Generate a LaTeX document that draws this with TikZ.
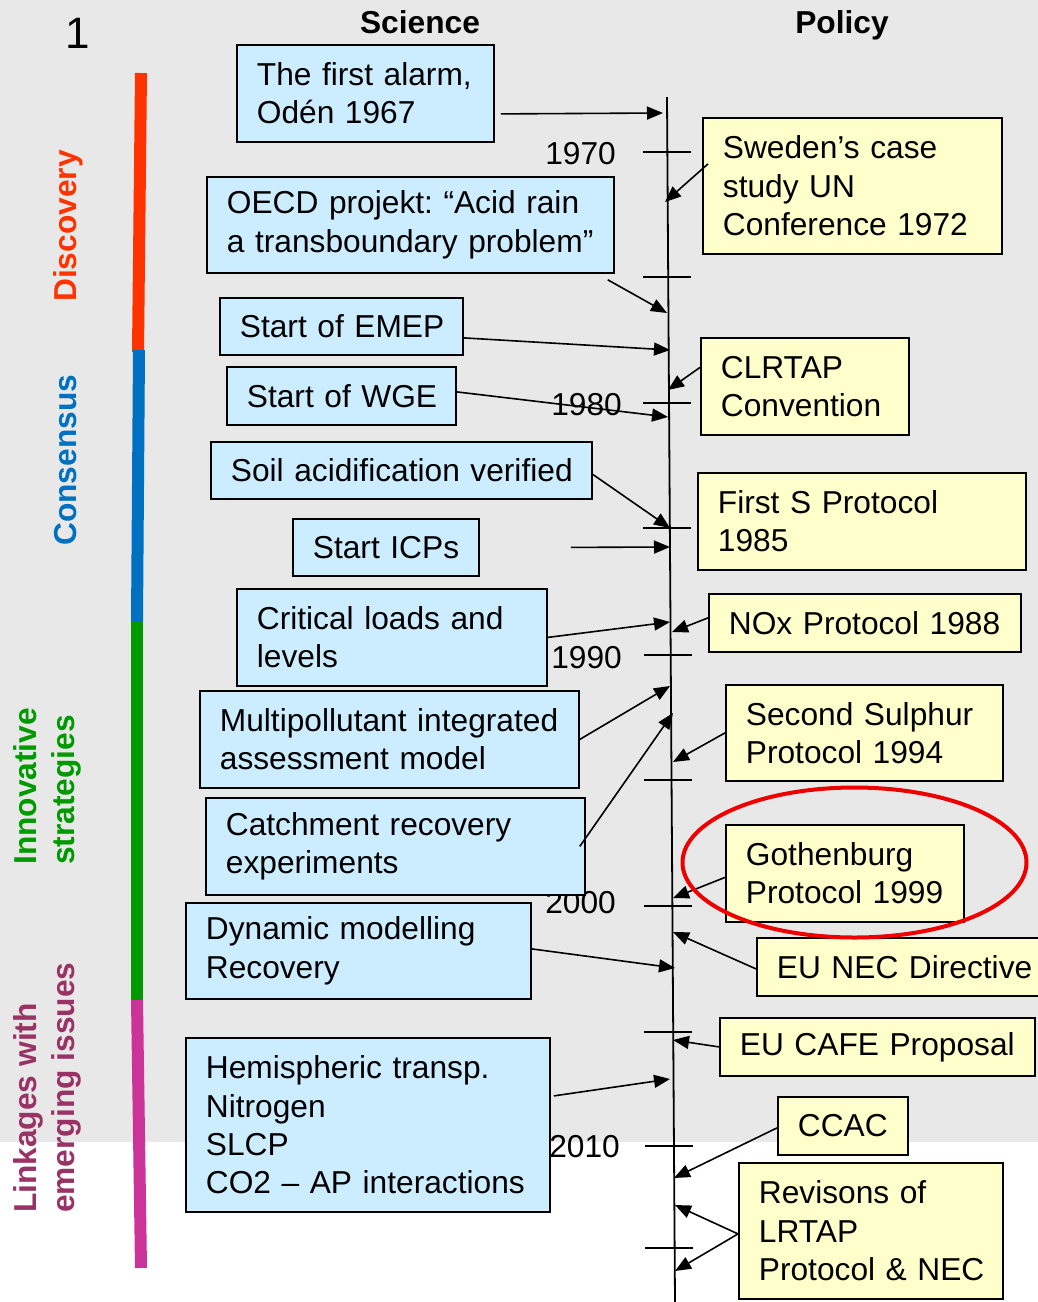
\documentclass[tikz,border=0pt]{standalone}
\usepackage{fontspec}
\setmainfont{Liberation Sans}
\usetikzlibrary{arrows.meta}
\definecolor{sciblue}{HTML}{CCECFF}
\definecolor{polyel}{HTML}{FFFFCC}
\definecolor{bggray}{HTML}{E8E8E8}
\definecolor{discov}{HTML}{FF3300}
\definecolor{consb}{HTML}{0070C0}
\definecolor{innov}{HTML}{009900}
\definecolor{linktxt}{HTML}{993366}
\definecolor{linkbar}{HTML}{CC3399}
\definecolor{ellred}{HTML}{EE0000}
\newcommand{\bigf}{\fontsize{31.7}{38.4}\selectfont}
\begin{document}
\begin{tikzpicture}[x=1pt,y=-1pt,
  box/.style={draw=black, line width=1.8pt, inner xsep=20pt, inner ysep=0pt,
              align=left, font=\bigf, anchor=north west,
              execute at begin node={\hyphenpenalty=10000\exhyphenpenalty=10000\hbadness=10000\hfuzz=200pt}},
  sci/.style={box, fill=sciblue},
  pol/.style={box, fill=polyel},
  arr/.style={line width=1.6pt, -{Triangle[length=16pt,width=13pt]}},
  tickmark/.style={line width=1.6pt},
  yr/.style={font=\bigf, anchor=base east, inner sep=0pt},
  side/.style={rotate=90, font=\bfseries\bigf, inner sep=0pt, align=left},
  bar/.style={line width=12pt, line cap=butt}
]
\useasboundingbox (0,0) rectangle (1038,1302);
\fill[bggray] (0,0) rectangle (1038,1142);

% headers
\node[font=\fontsize{44}{50}\selectfont, anchor=base, inner sep=0pt] (one) at (78,48) {1};
\node[font=\bfseries\bigf, anchor=base, inner sep=0pt] (hsci) at (420,33) {Science};
\node[font=\bfseries\bigf, anchor=base, inner sep=0pt] (hpol) at (842,33) {Policy};

% phase bar
\draw[bar, discov] (141,73) -- (138,352);
\draw[bar, consb] (139,350) -- (137,622);
\draw[bar, innov] (137,622) -- (137,1000);
\draw[bar, linkbar] (137,1000) -- (141,1268);

% phase labels
\node[side, text=discov, anchor=base west] (lab1) at (76,302) {Discovery};
\node[side, text=consb, anchor=base west] (lab2) at (76,546) {Consensus};
\node[side, text=innov, anchor=north west] (lab3) at (13,865) {Innovative\\strategies};
\node[side, text=linktxt, anchor=north west] (lab4) at (13,1213) {Linkages with\\emerging issues};

% timeline
\coordinate (tltop) at (667,97);
\coordinate (tlbot) at (675,1302);
\draw[line width=1.8pt] (tltop) -- (tlbot);
\foreach \yy/\xx in {152/643,277/643,403/643,528/643,655/644,780/644,906/644,1032/644,1146/645,1248/645}
  \draw[tickmark] (\xx,\yy) -- (\xx+48,\yy);

% years
\node[yr] (y70) at (616,164) {1970};
\node[yr] (y80) at (622,415) {1980};
\node[yr] (y90) at (622,668) {1990};
\node[yr] (y00) at (616,913) {2000};
\node[yr] (y10) at (620,1157) {2010};

% science boxes
\node[sci, minimum width=257pt, minimum height=97pt, text width=217pt] (b1) at (236,44) {The first alarm,\\Odén 1967};
\node[sci, minimum width=407pt, minimum height=96pt, text width=367pt] (b2) at (206,176) {OECD~projekt:~“Acid~rain\\a~transboundary~problem”};
\node[sci, minimum width=243pt, minimum height=57pt, text width=203pt] (b3) at (219,297) {Start~of~EMEP};
\node[sci, minimum width=229pt, minimum height=58pt, text width=189pt] (b4) at (226,366) {Start~of~WGE};
\node[sci, minimum width=381pt, minimum height=57pt, text width=341pt] (b5) at (210,441) {Soil~acidification~verified};
\node[sci, minimum width=186pt, minimum height=57pt, text width=146pt] (b6) at (292,518) {Start~ICPs};
\node[sci, minimum width=310pt, minimum height=97pt, text width=270pt] (b7) at (236,588) {Critical~loads~and\\levels};
\node[sci, minimum width=379pt, minimum height=97pt, text width=339pt] (b8) at (199,690) {Multipollutant~integrated\\assessment~model};
\node[sci, minimum width=379pt, minimum height=97pt, text width=339pt] (b9) at (205,797) {Catchment~recovery\\experiments};
\node[sci, minimum width=345pt, minimum height=96pt, text width=305pt] (b10) at (185,902) {Dynamic~modelling\\Recovery};
\node[sci, minimum width=364pt, minimum height=174pt, text width=324pt] (b11) at (185,1037) {Hemispheric~transp.\\Nitrogen\\SLCP\\CO2~–~AP~interactions};

% policy boxes
\node[pol, minimum width=299pt, minimum height=136pt, text width=259pt] (p1) at (702,117) {Sweden’s~case\\study~UN\\Conference~1972};
\node[pol, minimum width=208pt, minimum height=97pt, text width=168pt] (p2) at (700,337) {CLRTAP\\Convention};
\node[pol, minimum width=328pt, minimum height=97pt, text width=288pt] (p3) at (697,472) {First~S~Protocol\\1985};
\node[pol, minimum width=312pt, minimum height=58pt, text width=272pt] (p4) at (708,593) {NOx~Protocol~1988};
\node[pol, minimum width=277pt, minimum height=96pt, text width=237pt] (p5) at (725,684) {Second~Sulphur\\Protocol~1994};
\node[pol, minimum width=238pt, minimum height=97pt, text width=198pt] (p6) at (725,824) {Gothenburg\\Protocol~1999};
\node[pol, minimum width=294pt, minimum height=58pt, text width=254pt] (p7) at (756,937) {EU~NEC~Directive};
\node[pol, minimum width=315pt, minimum height=58pt, text width=275pt] (p8) at (719,1017) {EU~CAFE~Proposal};
\node[pol, minimum width=130pt, minimum height=58pt, text width=90pt] (p9) at (777,1096) {CCAC};
\node[pol, minimum width=264pt, minimum height=136pt, text width=224pt] (p10) at (738,1162) {Revisons~of\\LRTAP\\Protocol~\&~NEC};

% timeline arrival points
\coordinate (e1) at (663,113);
\coordinate (e2) at (667,313);
\coordinate (e3) at (670,350);
\coordinate (e4) at (668,417);
\coordinate (e5) at (670,528);
\coordinate (e6) at (670,547);
\coordinate (e7) at (670,622);
\coordinate (e8) at (670,686);
\coordinate (e9) at (673,713);
\coordinate (e10) at (675,968);
\coordinate (e11) at (670,1079);
\coordinate (f1) at (665,202);
\coordinate (f2) at (668,390);
\coordinate (f4) at (672,632);
\coordinate (f5) at (673,762);
\coordinate (f6) at (673,898);
\coordinate (f7) at (673,932);
\coordinate (f8) at (673,1040);
\coordinate (f9) at (674,1178);
\coordinate (f10a) at (675,1205);
\coordinate (f10b) at (675,1271);

% science connectors
\draw[arr] ([shift={(6,20.5)}]b1.east) -- (e1);
\draw[arr] ([shift={(-7,6)}]b2.south east) -- (e2);
\draw[arr] ([shift={(0,11.5)}]b3.east) -- (e3);
\draw[arr] ([shift={(0,-4)}]b4.east) -- (e4);
\draw[arr] ([shift={(0,4)}]b5.east) -- (e5);
\draw[arr] ([shift={(91,0)}]b6.east) -- (e6);
\draw[arr] (b7.east) -- (e7);
\draw[arr] (b8.east) -- (e8);
\draw[arr] ([shift={(-6,0)}]b9.east) -- (e9);
\draw[arr] ([shift={(0,-2)}]b10.east) -- (e10);
\draw[arr] ([shift={(3,-29)}]b11.east) -- (e11);

% policy connectors
\draw[arr] ([shift={(6,-22)}]p1.west) -- (f1);
\draw[arr] ([shift={(0,-19)}]p2.west) -- (f2);
\draw[arr] ([shift={(0,-5)}]p4.west) -- (f4);
\draw[arr] (p5.west) -- (f5);
\draw[arr] ([shift={(0,4)}]p6.west) -- (f6);
\draw[arr] ([shift={(0,2)}]p7.west) -- (f7);
\draw[arr] (p8.west) -- (f8);
\draw[arr] ([shift={(0,2)}]p9.west) -- (f9);
\draw[arr] ([shift={(0,3)}]p10.west) -- (f10a);
\draw[arr] ([shift={(0,3)}]p10.west) -- (f10b);

% highlight
\draw[ellred, line width=4pt] (854.5,862.5) ellipse [x radius=172, y radius=75];
\end{tikzpicture}
\end{document}
